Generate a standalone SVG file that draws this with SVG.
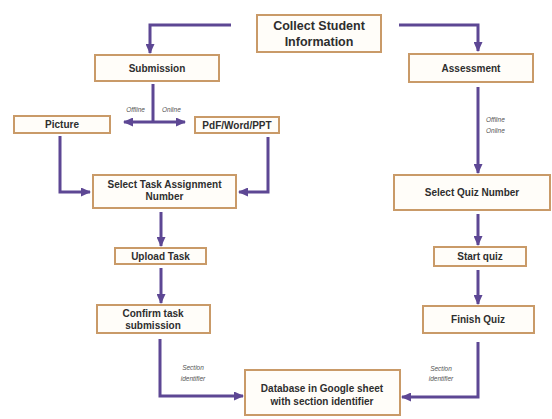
<svg xmlns="http://www.w3.org/2000/svg" width="552" height="419" viewBox="0 0 552 419">
<defs>
<style>
.box{fill:#fffdf9;stroke:#c99a68;stroke-width:2}
.t{font-family:"Liberation Sans",Arial,sans-serif;font-weight:bold;font-size:10px;fill:#2e2e2e;text-anchor:middle}
.big{font-size:12.5px}
.lbl{font-family:"Liberation Sans",Arial,sans-serif;font-style:italic;font-size:6.5px;fill:#555}
.c{fill:none;stroke:#5d4794;stroke-width:3}
</style>
<marker id="ah" markerUnits="userSpaceOnUse" markerWidth="10" markerHeight="9" refX="9" refY="4.5" orient="auto-start-reverse">
<path d="M0,0 L10,4.5 L0,9 z" fill="#5d4794"/>
</marker>
</defs>
<rect width="552" height="419" fill="#ffffff"/>
<g id="connectors">
<path class="c" d="M231,25 H150 V53" marker-end="url(#ah)"/>
<path class="c" d="M399,25 H478 V51" marker-end="url(#ah)"/>
<path class="c" d="M153,84 V122"/>
<path class="c" d="M124,122 H185" marker-start="url(#ah)" marker-end="url(#ah)"/>
<path class="c" d="M60,136 V192 H90" marker-end="url(#ah)"/>
<path class="c" d="M268,137 V192 H239" marker-end="url(#ah)"/>
<path class="c" d="M161,212 V246" marker-end="url(#ah)"/>
<path class="c" d="M161,268 V303" marker-end="url(#ah)"/>
<path class="c" d="M160,339 V396 H243" marker-end="url(#ah)"/>
<path class="c" d="M478,87 V173" marker-end="url(#ah)"/>
<path class="c" d="M478,214 V245" marker-end="url(#ah)"/>
<path class="c" d="M478,270 V304" marker-end="url(#ah)"/>
<path class="c" d="M478,342 V397 H402" marker-end="url(#ah)"/>
<text class="lbl" x="145" y="112" text-anchor="end">Offline</text>
<text class="lbl" x="162" y="112">Online</text>
<text class="lbl" x="486" y="122">Offline</text>
<text class="lbl" x="486" y="133">Online</text>
<text class="lbl" x="193" y="370" text-anchor="middle">Section</text>
<text class="lbl" x="193" y="381" text-anchor="middle">identifier</text>
<text class="lbl" x="441" y="371" text-anchor="middle">Section</text>
<text class="lbl" x="441" y="381" text-anchor="middle">identifier</text>
</g>
<g id="collect">
<rect class="box" x="257" y="15" width="124" height="37"/>
<text class="t big" x="319" y="30">Collect Student</text>
<text class="t big" x="319" y="46">Information</text>
</g>
<g id="submission">
<rect class="box" x="95" y="55" width="124" height="26"/>
<text class="t" x="157" y="72">Submission</text>
</g>
<g id="assessment">
<rect class="box" x="409" y="54" width="124" height="28"/>
<text class="t" x="471" y="72">Assessment</text>
</g>
<g id="picture">
<rect class="box" x="14" y="116" width="96" height="17"/>
<text class="t" x="62" y="128">Picture</text>
</g>
<g id="pdf">
<rect class="box" x="195" y="117" width="84" height="16"/>
<text class="t" x="237" y="129">PdF/Word/PPT</text>
</g>
<g id="selecttask">
<rect class="box" x="93" y="175" width="143" height="33"/>
<text class="t" x="164.5" y="188">Select Task Assignment</text>
<text class="t" x="164.5" y="200">Number</text>
</g>
<g id="upload">
<rect class="box" x="115" y="248" width="91" height="16"/>
<text class="t" x="160.5" y="260">Upload Task</text>
</g>
<g id="confirm">
<rect class="box" x="97" y="305" width="113" height="28"/>
<text class="t" x="153" y="317">Confirm task</text>
<text class="t" x="153" y="329">submission</text>
</g>
<g id="selectquiz">
<rect class="box" x="394" y="175" width="156" height="35"/>
<text class="t" x="472" y="196">Select Quiz Number</text>
</g>
<g id="startquiz">
<rect class="box" x="434" y="247" width="92" height="19"/>
<text class="t" x="480" y="260">Start quiz</text>
</g>
<g id="finishquiz">
<rect class="box" x="423" y="306" width="111" height="27"/>
<text class="t" x="478" y="323">Finish Quiz</text>
</g>
<g id="database">
<rect class="box" x="245" y="370" width="155" height="45"/>
<text class="t" x="322" y="392">Database in Google sheet</text>
<text class="t" x="322" y="405">with section identifier</text>
</g>
</svg>
